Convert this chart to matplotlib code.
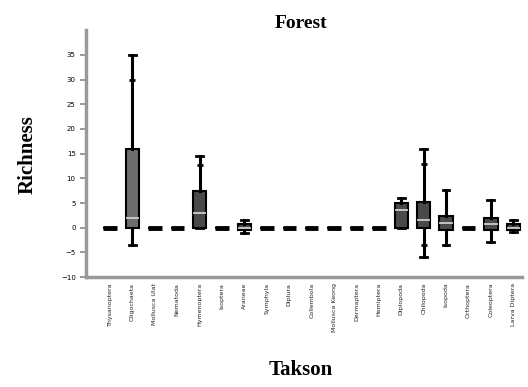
import matplotlib
matplotlib.use("Agg")
from matplotlib import pyplot as plt
import numpy as np

# taxa on the x axis
taxa = ["Thysanoptera", "Oligochaeta", "Mollusca Ulat", "Nematoda", "Hymenoptera",
        "Isoptera", "Araneae", "Symphyla", "Diplura", "Collembola",
        "Mollusca Keong", "Dermaptera", "Hemiptera", "Diplopoda", "Chilopoda",
        "Isopoda", "Orthoptera", "Coleoptera", "Larva Diptera"]

# box statistics (richness)
q1 = [0, 0, 0, 0, 0, 0, -0.5, 0, 0, 0, 0, 0, 0, 0, 0, -0.5, 0, -0.4, -0.5]
med = [0, 2, 0, 0, 3, 0, 0, 0, 0, 0, 0, 0, 0, 3.5, 1.5, 1, 0, 0.8, 0]
q3 = [0, 16, 0, 0, 7.5, 0, 0.7, 0, 0, 0, 0, 0, 0, 5, 5.3, 2.3, 0, 1.9, 0.7]
wlo = [0, -3.5, 0, 0, 0, 0, -1, 0, 0, 0, 0, 0, 0, 0, -6, -3.5, 0, -2.8, -0.8]
whi = [0, 35, 0, 0, 14.5, 0, 1.5, 0, 0, 0, 0, 0, 0, 6, 16, 7.7, 0, 5.7, 1.6]
outliers = [[], [30], [], [], [12.7], [], [], [], [], [], [], [], [], [], [13, -3.5], [], [], [], []]

stats = []
for i in range(len(taxa)):
	stats.append({"label": taxa[i], "q1": q1[i], "med": med[i], "q3": q3[i],
	              "whislo": wlo[i], "whishi": whi[i], "fliers": outliers[i]})

fig = plt.figure(figsize=(5.28, 3.87), dpi=100)
ax = fig.add_axes([0.163, 0.284, 0.826, 0.638])

pos = np.arange(1, len(taxa) + 1)
bp = ax.bxp(stats, positions=pos, widths=0.6, capwidths=0.3, patch_artist=True, showfliers=True,
            boxprops=dict(facecolor="#4a4a4a", edgecolor="black", linewidth=1.5),
            medianprops=dict(color="#d8d8d8", linewidth=1.2),
            whiskerprops=dict(color="black", linewidth=2.2),
            capprops=dict(color="black", linewidth=2),
            flierprops=dict(marker="_", markersize=5, markeredgecolor="black", markeredgewidth=2))
bp["boxes"][1].set_facecolor("#6e6e6e")

# flat boxes at zero show as thick dashes
for i in range(len(taxa)):
	if q3[i] == q1[i] and whi[i] == wlo[i]:
		bp["medians"][i].set_color("black")
		bp["medians"][i].set_linewidth(3.5)

ax.set_xlim(-0.07, len(taxa) + 0.4)
ax.set_ylim(-10, 40)
ax.set_yticks([-10, -5, 0, 5, 10, 15, 20, 25, 30, 35])
ax.set_xticks(pos)
ax.set_xticklabels(taxa, rotation=90, fontsize=4.5, color="#222222")
ax.tick_params(axis="y", labelsize=5, length=4, width=1.2, color="#888888")
ax.tick_params(axis="x", length=0, pad=4)

for s in ["top", "right"]:
	ax.spines[s].set_visible(False)
for s in ["left", "bottom"]:
	ax.spines[s].set_color("#999999")
	ax.spines[s].set_linewidth(2.5)

fig.text(0.57, 0.94, "Forest", ha="center", va="center", fontsize=14,
         fontweight="bold", family="Liberation Serif")
fig.text(0.053, 0.60, "Richness", ha="center", va="center", rotation=90, fontsize=15,
         fontweight="bold", family="Liberation Serif")
fig.text(0.57, 0.045, "Takson", ha="center", va="center", fontsize=15,
         fontweight="bold", family="Liberation Serif")

fig.savefig("out.png", dpi=100)
